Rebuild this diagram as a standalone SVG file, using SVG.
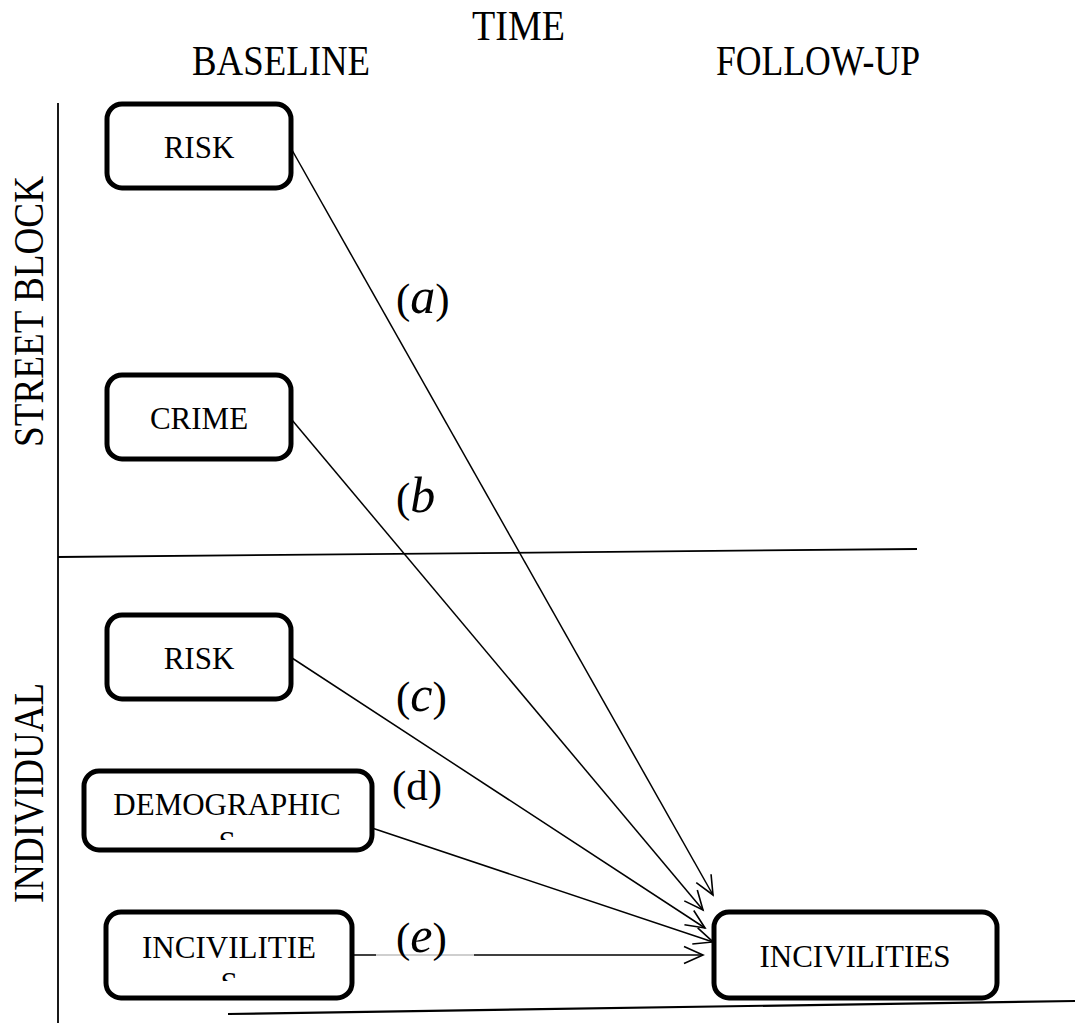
<svg xmlns="http://www.w3.org/2000/svg" width="1075" height="1023" viewBox="0 0 1075 1023">
<style>
.box{fill:#fff;stroke:#000;stroke-width:5}
.t{font-family:"Liberation Serif","Times New Roman",serif;fill:#000}
.bl{font-size:31px;text-anchor:middle}
.hd{font-size:43px}
.lb{font-size:43px}
.it{font-style:italic;font-size:50px}
.ax{stroke:#000;stroke-width:1.8;fill:none}
.cn{stroke:#000;stroke-width:1.5;fill:none;marker-end:url(#arr)}
</style>
<defs>
<marker id="arr" markerUnits="userSpaceOnUse" markerWidth="24" markerHeight="22" viewBox="0 0 24 22" refX="21" refY="11" orient="auto">
<path d="M2,2.5 L21,11 L2,19.5" fill="none" stroke="#000" stroke-width="1.6"/>
</marker>
<clipPath id="clipDemo"><rect x="84" y="770" width="288" height="70"/></clipPath>
<clipPath id="clipInc"><rect x="105" y="911" width="247" height="70"/></clipPath>
</defs>

<g id="headers">
<text class="t hd" x="472" y="40" textLength="93" lengthAdjust="spacingAndGlyphs">TIME</text>
<text class="t hd" x="192" y="75" textLength="178" lengthAdjust="spacingAndGlyphs">BASELINE</text>
<text class="t hd" x="716" y="75" textLength="204" lengthAdjust="spacingAndGlyphs">FOLLOW-UP</text>
<text class="t hd" transform="translate(43,447) rotate(-90)" x="0" y="0" textLength="271" lengthAdjust="spacingAndGlyphs">STREET BLOCK</text>
<text class="t hd" transform="translate(43,903) rotate(-90)" x="0" y="0" textLength="220" lengthAdjust="spacingAndGlyphs">INDIVIDUAL</text>
</g>

<g id="axes">
<line class="ax" x1="58" y1="103" x2="58" y2="1023"/>
<line class="ax" x1="58" y1="557" x2="917" y2="549"/>
<line class="ax" x1="228" y1="1014" x2="1075" y2="1001" style="stroke-width:2.2"/>
</g>

<g id="connectors">
<line class="cn" x1="292" y1="150" x2="713" y2="895"/>
<line class="cn" x1="292" y1="420" x2="703" y2="910"/>
<line class="cn" x1="292" y1="658" x2="705" y2="928"/>
<line class="cn" x1="372" y1="828" x2="713" y2="942"/>
<line class="cn" x1="352" y1="955" x2="703" y2="955"/>
</g>

<g id="node-risk-block">
<rect class="box" x="107" y="104" width="184" height="84" rx="15"/>
<text class="t bl" x="199" y="158">RISK</text>
</g>
<g id="node-crime-block">
<rect class="box" x="107" y="375" width="184" height="84" rx="15"/>
<text class="t bl" x="199" y="429">CRIME</text>
</g>
<g id="node-risk-individual">
<rect class="box" x="107" y="615" width="184" height="84" rx="15"/>
<text class="t bl" x="199" y="669">RISK</text>
</g>
<g id="node-demographics">
<rect class="box" x="84" y="771" width="288" height="79" rx="15"/>
<g clip-path="url(#clipDemo)">
<text class="t bl" x="227" y="815">DEMOGRAPHIC</text>
<text class="t bl" x="227" y="853">S</text>
</g>
</g>
<g id="node-incivilities-baseline">
<rect class="box" x="106" y="912" width="246" height="86" rx="15"/>
<g clip-path="url(#clipInc)">
<text class="t bl" x="229" y="958">INCIVILITIE</text>
<text class="t bl" x="229" y="994">S</text>
</g>
</g>
<g id="node-incivilities-followup">
<rect class="box" x="714" y="912" width="283" height="86" rx="15"/>
<text class="t bl" x="855" y="967">INCIVILITIES</text>
</g>

<g id="labels">
<text class="t lb" x="396" y="313">(<tspan class="it">a</tspan>)</text>
<text class="t lb" x="396" y="512">(<tspan class="it">b</tspan></text>
<text class="t lb" x="396" y="711">(<tspan class="it">c</tspan>)</text>
<text class="t lb" x="392" y="800">(d)</text>
<rect x="376" y="950" width="98" height="8" fill="#fff" opacity="0.75"/>
<text class="t lb" x="396" y="952">(<tspan class="it">e</tspan>)</text>
</g>
</svg>
